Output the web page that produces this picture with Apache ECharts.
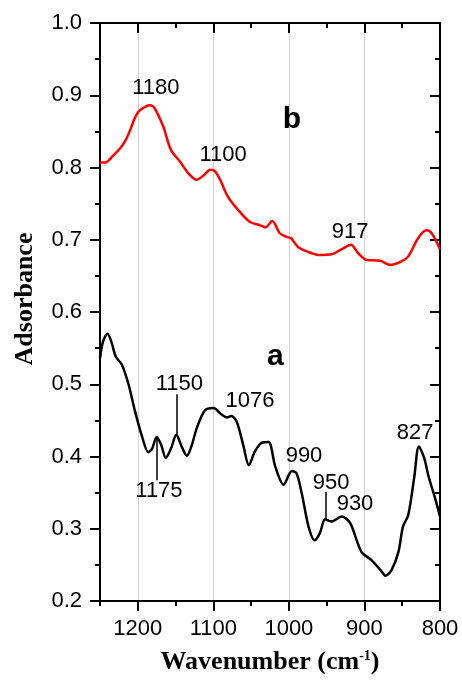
<!DOCTYPE html>
<html>
<head>
<meta charset="utf-8">
<script src="https://cdn.jsdelivr.net/npm/echarts@6/dist/echarts.min.js"></script>
<style>
  html, body { margin: 0; padding: 0; background: #fff; }
  #chart { width: 462px; height: 681px; }
</style>
</head>
<body>
<div id="chart"></div>
<script>
// FTIR spectra: wavenumber (cm-1) vs absorbance
const waveB = [1250, 1243, 1233, 1223, 1216, 1210, 1205, 1200, 1195, 1190, 1185, 1180, 1175, 1166, 1156, 1144, 1133, 1122, 1113, 1104, 1098, 1091, 1081, 1067, 1052, 1038, 1031, 1022, 1012, 1003, 997, 988, 974, 961, 943, 930, 918, 908, 897, 879, 866, 851, 842, 829, 818, 811, 800];
const absB  = [0.807, 0.807, 0.816, 0.827, 0.838, 0.852, 0.866, 0.876, 0.881, 0.884, 0.886, 0.885, 0.877, 0.856, 0.824, 0.808, 0.792, 0.783, 0.789, 0.797, 0.795, 0.783, 0.760, 0.741, 0.725, 0.720, 0.717, 0.726, 0.709, 0.704, 0.702, 0.690, 0.683, 0.679, 0.680, 0.687, 0.693, 0.681, 0.672, 0.671, 0.665, 0.670, 0.677, 0.702, 0.713, 0.709, 0.687];

const waveA = [1250, 1246, 1240, 1235, 1229, 1221, 1212, 1204, 1195, 1186, 1181, 1175, 1169, 1163, 1156, 1149, 1142, 1135, 1129, 1122, 1111, 1100, 1089, 1082, 1076, 1069, 1060, 1053, 1045, 1036, 1027, 1018, 1007, 996, 990, 983, 974, 966, 959, 952, 944, 930, 919, 904, 891, 879, 872, 864, 855, 849, 842, 834, 828, 821, 815, 807, 800];
const absA  = [0.536, 0.559, 0.570, 0.559, 0.538, 0.527, 0.499, 0.464, 0.430, 0.406, 0.411, 0.427, 0.416, 0.398, 0.411, 0.430, 0.414, 0.401, 0.414, 0.439, 0.464, 0.467, 0.458, 0.454, 0.456, 0.448, 0.414, 0.388, 0.407, 0.419, 0.420, 0.386, 0.361, 0.380, 0.377, 0.349, 0.303, 0.284, 0.294, 0.313, 0.310, 0.317, 0.308, 0.268, 0.257, 0.243, 0.235, 0.243, 0.268, 0.303, 0.319, 0.372, 0.414, 0.398, 0.372, 0.344, 0.317];

// axis ticks
const xMajorTicks = [800, 900, 1000, 1100, 1200];
const xMinorTicks = [850, 950, 1050, 1150, 1250];

// peak labels: [text, wavenumber, absorbance, bold]
const peakLabels = [
  ['1180', 1176, 0.910, false],
  ['1100', 1087, 0.817, false],
  ['917', 919, 0.711, false],
  ['1150', 1145, 0.500, false],
  ['1175', 1172, 0.352, false],
  ['1076', 1051.5, 0.477, false],
  ['990', 980, 0.401, false],
  ['950', 944, 0.364, false],
  ['930', 912.5, 0.334, false],
  ['827', 833, 0.433, false],
  ['b', 996, 0.866, true],
  ['a', 1018, 0.538, true]
];

// leader lines: [wavenumber, absorbance from, absorbance to]
const leaders = [
  [1148, 0.486, 0.430],
  [1174.6, 0.427, 0.367],
  [951, 0.351, 0.313]
];

const sans = '"Liberation Sans", Arial, sans-serif';
const serif = '"Liberation Serif", "Times New Roman", serif';

const pair = (xs, ys) => xs.map((x, i) => [x, ys[i]]);

const baseX = {
  type: 'value', inverse: true, min: 800, max: 1250, gridIndex: 0,
  splitLine: { show: false }, axisLabel: { show: false },
  axisLine: { show: false }, axisTick: { show: false }
};
const baseY = {
  type: 'value', min: 0.2, max: 1.0, interval: 0.1, gridIndex: 0,
  splitLine: { show: false }, axisLabel: { show: false },
  axisLine: { show: false }, axisTick: { show: false }
};
const tickStyle = { color: '#000', width: 2 };

const option = {
  animation: false,
  backgroundColor: '#fff',
  grid: { left: 100, right: 22, top: 23, bottom: 80 },
  xAxis: [
    Object.assign({}, baseX, {
      position: 'bottom',
      name: '{t|Wavenumber (cm}{s|-1}{t|)}',
      nameLocation: 'middle', nameGap: 48,
      nameTextStyle: {
        rich: {
          t: { fontFamily: serif, fontWeight: 'bold', fontSize: 26, color: '#000', verticalAlign: 'bottom' },
          s: { fontFamily: serif, fontWeight: 'bold', fontSize: 14, color: '#000', verticalAlign: 'top' }
        }
      },
      axisLine: { show: true, onZero: false, lineStyle: { color: '#000', width: 2 } },
      axisTick: { show: true, inside: false, length: 10, lineStyle: tickStyle, customValues: xMajorTicks },
      axisLabel: { show: true, margin: 17, fontFamily: sans, fontSize: 22, color: '#000', customValues: xMajorTicks, formatter: v => String(v) },
      splitLine: { show: true, lineStyle: { color: '#cfcfcf', width: 1 } }
    }),
    Object.assign({}, baseX, {
      position: 'bottom',
      axisTick: { show: true, inside: false, length: 5, lineStyle: tickStyle, customValues: xMinorTicks }
    }),
    Object.assign({}, baseX, {
      position: 'top',
      axisLine: { show: true, onZero: false, lineStyle: { color: '#000', width: 2 } },
      axisTick: { show: true, inside: true, length: 10, lineStyle: tickStyle, customValues: xMajorTicks }
    }),
    Object.assign({}, baseX, {
      position: 'top',
      axisTick: { show: true, inside: true, length: 5, lineStyle: tickStyle, customValues: xMinorTicks }
    })
  ],
  yAxis: [
    Object.assign({}, baseY, {
      position: 'left',
      name: 'Adsorbance', nameLocation: 'middle', nameRotate: 90, nameGap: 62,
      nameTextStyle: { fontFamily: serif, fontWeight: 'bold', fontSize: 26, color: '#000', padding: [0, 0, 0, 26] },
      axisLine: { show: true, onZero: false, lineStyle: { color: '#000', width: 2 } },
      axisTick: { show: true, inside: false, length: 10, lineStyle: tickStyle },
      minorTick: { show: true, splitNumber: 2, length: 5, lineStyle: tickStyle },
      axisLabel: { show: true, margin: 18, fontFamily: sans, fontSize: 22, color: '#000', formatter: v => v.toFixed(1) }
    }),
    Object.assign({}, baseY, {
      position: 'right',
      axisLine: { show: true, onZero: false, lineStyle: { color: '#000', width: 2 } },
      axisTick: { show: true, inside: true, length: 10, lineStyle: tickStyle },
      minorTick: { show: true, splitNumber: 2, length: 5, lineStyle: tickStyle }
    })
  ],
  series: [
    {
      name: 'b', type: 'line', xAxisIndex: 0, yAxisIndex: 0,
      data: pair(waveB, absB), smooth: 0.3, showSymbol: false,
      lineStyle: { color: '#ff0000', width: 2.5 }
    },
    {
      name: 'a', type: 'line', xAxisIndex: 0, yAxisIndex: 0,
      data: pair(waveA, absA), smooth: 0.3, showSymbol: false,
      lineStyle: { color: '#000', width: 2.5 },
      markLine: {
        silent: true, symbol: 'none', animation: false,
        label: { show: false },
        lineStyle: { color: '#000', width: 1.5, type: 'solid' },
        data: leaders.map(l => [{ coord: [l[0], l[1]] }, { coord: [l[0], l[2]] }])
      }
    },
    {
      name: 'labels', type: 'scatter', xAxisIndex: 0, yAxisIndex: 0,
      symbol: 'circle', symbolSize: 0, itemStyle: { color: '#000', opacity: 1 },
      silent: true,
      data: peakLabels.map(p => ({
        value: [p[1], p[2]],
        label: {
          show: true, position: 'inside', formatter: p[0],
          fontFamily: sans, fontSize: p[3] ? 30 : 22,
          fontWeight: p[3] ? 'bold' : 'normal', color: '#000'
        }
      }))
    }
  ]
};

const chart = echarts.init(document.getElementById('chart'), null, { renderer: 'canvas' });
chart.setOption(option);
</script>
</body>
</html>
